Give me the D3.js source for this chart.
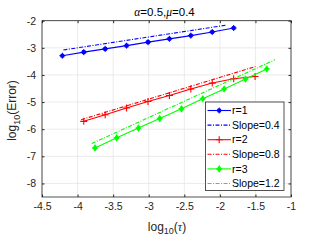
<!DOCTYPE html>
<html lang="en">
<head>
<meta charset="UTF-8">
<title>Convergence</title>
<script src="https://d3js.org/d3.v7.min.js"></script>
<style>
  body { margin: 0; background: #fff; font-family: "Liberation Sans", Arial, sans-serif; }
</style>
</head>
<body>
<svg width="321" height="241"></svg>
<script>
// data
const x1 = [-4.214, -3.913, -3.612, -3.311, -3.010, -2.709, -2.408, -2.107, -1.806];
const y1 = [-3.29, -3.16, -3.04, -2.92, -2.79, -2.67, -2.55, -2.415, -2.27];
const x2 = [-3.913, -3.612, -3.311, -3.010, -2.709, -2.408, -2.107, -1.806, -1.505];
const y2 = [-5.71, -5.47, -5.22, -4.98, -4.76, -4.52, -4.30, -4.14, -4.06];
const x3 = [-3.755, -3.45, -3.145, -2.845, -2.54, -2.24, -1.94, -1.64, -1.34];
const y3 = [-6.69, -6.32, -5.96, -5.61, -5.25, -4.88, -4.52, -4.15, -3.78];
const slopeX1 = [-4.2, -1.9], slopeY1 = [-3.08, -2.16];
const slopeX2 = [-3.95, -1.5], slopeY2 = [-5.65, -3.69];
const slopeX3 = [-3.8, -1.225], slopeY3 = [-6.53, -3.44];
const xTicks = [-4.5, -4, -3.5, -3, -2.5, -2, -1.5, -1];
const yTicks = [-8, -7, -6, -5, -4, -3, -2];
const legendNames = ["r=1", "Slope=0.4", "r=2", "Slope=0.8", "r=3", "Slope=1.2"];

const svg = d3.select("svg");
const m = { left: 42, right: 291, top: 20.7, bottom: 197 };

const x = d3.scaleLinear().domain([-4.5, -1]).range([m.left, m.right]);
const y = d3.scaleLinear().domain([-8.5, -2]).range([m.bottom, m.top]);

// grid
svg.append("g").selectAll("line").data(xTicks).enter().append("line")
  .attr("x1", d => x(d)).attr("x2", d => x(d))
  .attr("y1", m.top).attr("y2", m.bottom)
  .attr("stroke", "#e6e6e6").attr("stroke-width", 0.8);
svg.append("g").selectAll("line").data(yTicks).enter().append("line")
  .attr("y1", d => y(d)).attr("y2", d => y(d))
  .attr("x1", m.left).attr("x2", m.right)
  .attr("stroke", "#e6e6e6").attr("stroke-width", 0.8);

// axes (ticks inside, box on)
const fmt = d => String(d);
const ax = (g) => {
  g.select(".domain").remove();
  g.selectAll(".tick line").attr("stroke", "#262626");
  g.selectAll(".tick text").attr("fill", "#262626")
    .style("font-family", "'Liberation Sans', Arial, sans-serif").style("font-size", "10.5px");
};
svg.append("g").attr("transform", `translate(0,${m.bottom})`)
  .call(d3.axisBottom(x).tickValues(xTicks).tickFormat(fmt).tickSizeInner(-2.5).tickPadding(6))
  .call(ax);
svg.append("g").attr("transform", `translate(0,${m.top})`)
  .call(d3.axisTop(x).tickValues(xTicks).tickFormat("").tickSizeInner(-2.5))
  .call(ax);
svg.append("g").attr("transform", `translate(${m.left},0)`)
  .call(d3.axisLeft(y).tickValues(yTicks).tickFormat(fmt).tickSizeInner(-2.5).tickPadding(6))
  .call(ax);
svg.append("g").attr("transform", `translate(${m.right},0)`)
  .call(d3.axisRight(y).tickValues(yTicks).tickFormat("").tickSizeInner(-2.5))
  .call(ax);
svg.append("rect").attr("x", m.left).attr("y", m.top)
  .attr("width", m.right - m.left).attr("height", m.bottom - m.top)
  .attr("fill", "none").attr("stroke", "#262626").attr("stroke-width", 0.8);

const line = d3.line().x(d => x(d[0])).y(d => y(d[1]));
const zip = (a, b) => a.map((v, i) => [v, b[i]]);

function marker(g, type, color, px, py) {
  if (type === "star") {
    g.append("circle").attr("cx", px).attr("cy", py).attr("r", 2.3).attr("fill", color);
    g.append("path").attr("d", `M${px-3},${py}H${px+3}M${px},${py-3}V${py+3}`)
      .attr("stroke", color).attr("stroke-width", 1);
  } else if (type === "plus") {
    g.append("path").attr("d", `M${px-3.5},${py}H${px+3.5}M${px},${py-3.5}V${py+3.5}`)
      .attr("stroke", color).attr("stroke-width", 1.1);
  } else {
    g.append("path").attr("d", `M${px},${py-3.8}L${px+2.6},${py}L${px},${py+3.8}L${px-2.6},${py}Z`)
      .attr("fill", color);
    g.append("path").attr("d", `M${px-3},${py}H${px+3}`).attr("stroke", color).attr("stroke-width", 1);
  }
}

const series = [
  { xs: x1, ys: y1, sx: slopeX1, sy: slopeY1, color: "#0000ff", mk: "star" },
  { xs: x2, ys: y2, sx: slopeX2, sy: slopeY2, color: "#ff0000", mk: "plus" },
  { xs: x3, ys: y3, sx: slopeX3, sy: slopeY3, color: "#00ff00", mk: "diamond" }
];

const plot = svg.append("g");
series.forEach(s => {
  plot.append("path").datum(zip(s.sx, s.sy)).attr("d", line)
    .attr("fill", "none").attr("stroke", s.color).attr("stroke-width", 1.1)
    .attr("stroke-dasharray", "4,1.5,1,1.5");
  plot.append("path").datum(zip(s.xs, s.ys)).attr("d", line)
    .attr("fill", "none").attr("stroke", s.color).attr("stroke-width", 1.1);
  const mg = plot.append("g");
  s.xs.forEach((v, i) => marker(mg, s.mk, s.color, x(v), y(s.ys[i])));
});

// legend
const lg = svg.append("g");
lg.append("rect").attr("x", 205.5).attr("y", 102).attr("width", 78.5).attr("height", 88.5)
  .attr("fill", "#fff").attr("stroke", "#262626").attr("stroke-width", 0.8);
legendNames.forEach((name, i) => {
  const s = series[Math.floor(i / 2)];
  const ly = 110.5 + i * 14.6;
  const l = lg.append("line").attr("x1", 207.5).attr("x2", 231).attr("y1", ly).attr("y2", ly)
    .attr("stroke", s.color).attr("stroke-width", 1.1);
  if (i % 2) l.attr("stroke-dasharray", "4,1.5,1,1.5");
  else marker(lg, s.mk, s.color, 219.2, ly);
  lg.append("text").attr("x", 232).attr("y", ly).attr("dy", "0.35em")
    .style("font-size", "10.5px").attr("fill", "#000").text(name);
});

// title
const t = svg.append("text").attr("x", 164.5).attr("y", 16).attr("text-anchor", "middle")
  .style("font-size", "11.5px").attr("fill", "#000");
t.append("tspan").style("font-family", "'Liberation Serif', serif").style("font-style", "italic").text("α");
t.append("tspan").text("=0.5,");
t.append("tspan").style("font-family", "'Liberation Serif', serif").style("font-style", "italic").text("μ");
t.append("tspan").text("=0.4");

// axis labels
const xl = svg.append("text").attr("x", 167).attr("y", 230.5).attr("text-anchor", "middle")
  .style("font-size", "12px").attr("fill", "#262626");
xl.append("tspan").text("log");
xl.append("tspan").attr("dy", 3.5).style("font-size", "9px").text("10");
xl.append("tspan").attr("dy", -3.5).text("(");
xl.append("tspan").style("font-family", "'Liberation Serif', serif").style("font-style", "italic").text("τ");
xl.append("tspan").text(")");

const yl = svg.append("text").attr("transform", "translate(16,110.5) rotate(-90)")
  .attr("text-anchor", "middle").style("font-size", "12px").attr("fill", "#262626");
yl.append("tspan").text("log");
yl.append("tspan").attr("dy", 3.5).style("font-size", "9px").text("10");
yl.append("tspan").attr("dy", -3.5).text("(Error)");
</script>
</body>
</html>
